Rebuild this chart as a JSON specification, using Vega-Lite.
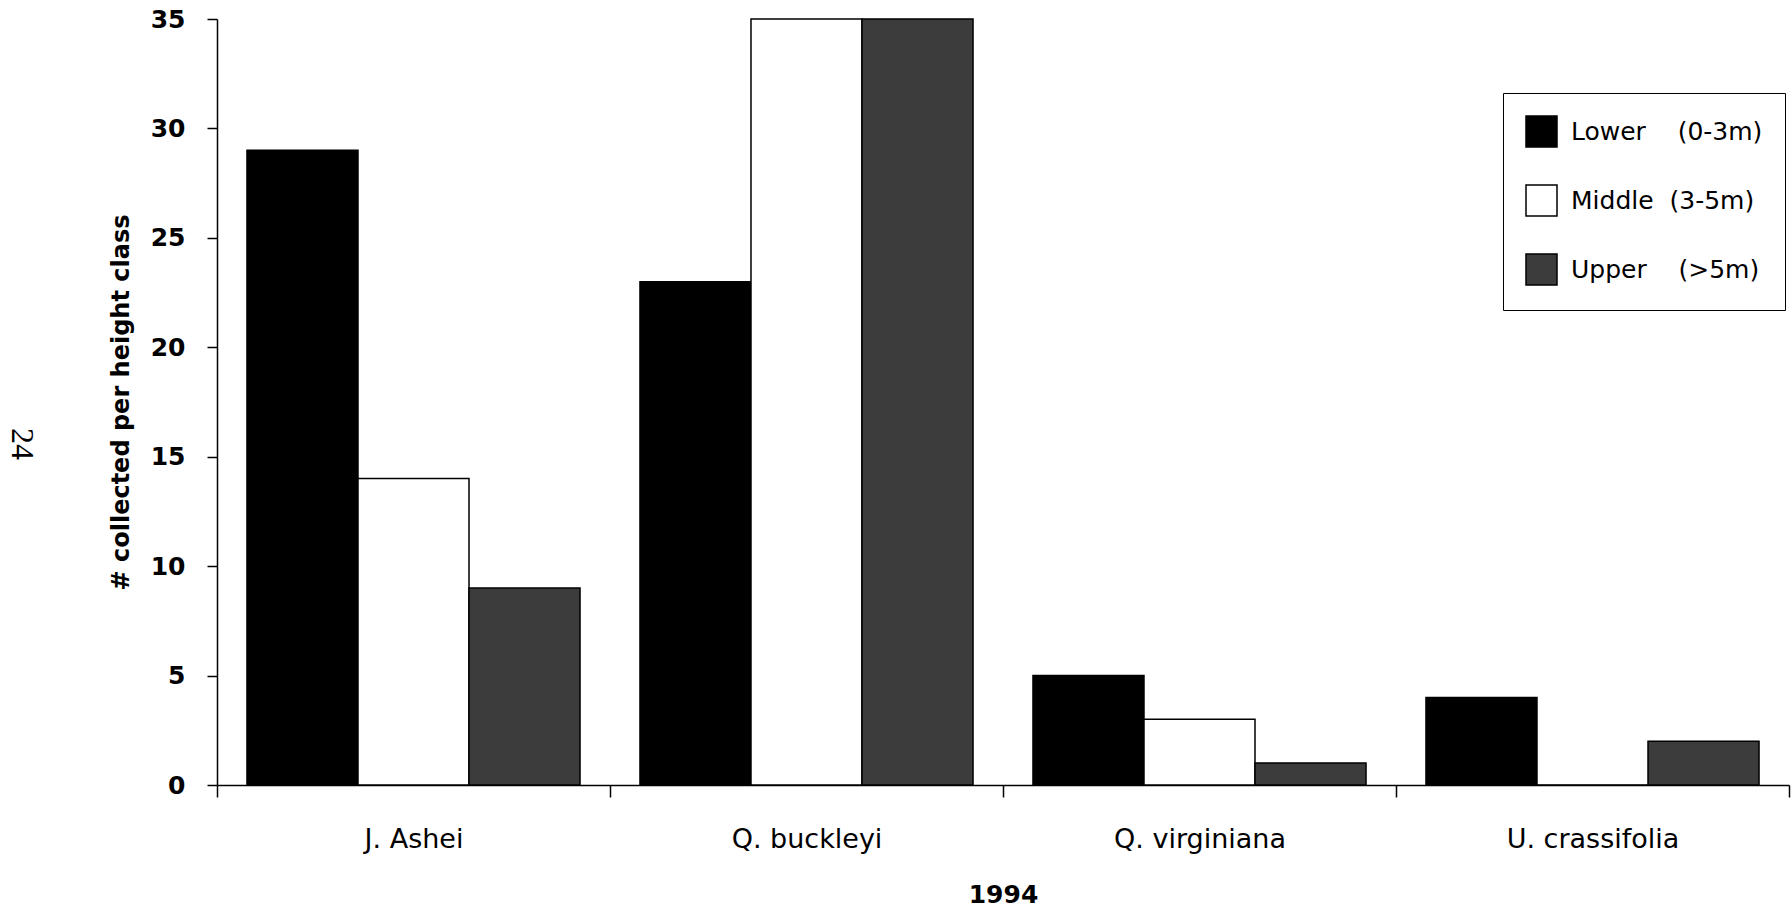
{
  "$schema": "https://vega.github.io/schema/vega-lite/v6.json",
  "autosize": "none",
  "width": 1572,
  "height": 766,
  "padding": {"left": 217, "top": 19, "right": 3, "bottom": 127},
  "background": "white",
  "title": {
    "text": "24",
    "orient": "left",
    "anchor": "middle",
    "angle": 90,
    "font": "Liberation Serif",
    "fontSize": 32,
    "fontWeight": "normal",
    "color": "black",
    "offset": 40,
    "dx": 42
  },
  "data": {
    "values": [
      {"species": "J. Ashei", "height_class": "Lower", "count": 29},
      {"species": "J. Ashei", "height_class": "Middle", "count": 14},
      {"species": "J. Ashei", "height_class": "Upper", "count": 9},
      {"species": "Q. buckleyi", "height_class": "Lower", "count": 23},
      {"species": "Q. buckleyi", "height_class": "Middle", "count": 35},
      {"species": "Q. buckleyi", "height_class": "Upper", "count": 35},
      {"species": "Q. virginiana", "height_class": "Lower", "count": 5},
      {"species": "Q. virginiana", "height_class": "Middle", "count": 3},
      {"species": "Q. virginiana", "height_class": "Upper", "count": 1},
      {"species": "U. crassifolia", "height_class": "Lower", "count": 4},
      {"species": "U. crassifolia", "height_class": "Middle", "count": 0},
      {"species": "U. crassifolia", "height_class": "Upper", "count": 2}
    ]
  },
  "mark": {"type": "bar", "stroke": "black", "strokeWidth": 1.5},
  "encoding": {
    "x": {
      "field": "species",
      "type": "nominal",
      "sort": ["J. Ashei", "Q. buckleyi", "Q. virginiana", "U. crassifolia"],
      "scale": {"paddingInner": 0, "paddingOuter": 0},
      "title": "1994",
      "axis": {
        "labelAngle": 0,
        "labelFont": "DejaVu Sans",
        "labelFontSize": 27,
        "labelColor": "black",
        "labelPadding": 29,
        "tickBand": "extent",
        "tickSize": 12,
        "tickColor": "black",
        "tickWidth": 1.5,
        "domainColor": "black",
        "domainWidth": 1.5,
        "titleFont": "DejaVu Sans",
        "titleFontWeight": "bold",
        "titleFontSize": 25,
        "titleColor": "black",
        "titlePadding": 30
      }
    },
    "xOffset": {
      "field": "height_class",
      "type": "nominal",
      "sort": ["Lower", "Middle", "Upper"],
      "scale": {"paddingInner": 0, "paddingOuter": 0.27}
    },
    "y": {
      "field": "count",
      "type": "quantitative",
      "scale": {"domain": [0, 35], "nice": false},
      "title": "# collected per height class",
      "axis": {
        "values": [0, 5, 10, 15, 20, 25, 30, 35],
        "grid": false,
        "tickSize": 10,
        "tickColor": "black",
        "tickWidth": 1.5,
        "domainColor": "black",
        "domainWidth": 1.5,
        "labelFont": "DejaVu Sans",
        "labelFontWeight": "bold",
        "labelFontSize": 25,
        "labelColor": "black",
        "labelPadding": 22,
        "titleFont": "DejaVu Sans",
        "titleFontWeight": "bold",
        "titleFontSize": 24,
        "titleColor": "black",
        "titlePadding": 17
      }
    },
    "color": {
      "field": "height_class",
      "type": "nominal",
      "scale": {
        "domain": ["Lower", "Middle", "Upper"],
        "range": ["#000000", "#ffffff", "#3c3c3c"]
      },
      "legend": {
        "title": null,
        "orient": "none",
        "legendX": 1286,
        "legendY": 74,
        "padding": 22,
        "strokeColor": "black",
        "fillColor": "white",
        "symbolType": "square",
        "symbolSize": 961,
        "symbolStrokeColor": "black",
        "symbolStrokeWidth": 1.5,
        "symbolOpacity": 1,
        "labelFont": "DejaVu Sans",
        "labelFontSize": 25,
        "labelColor": "black",
        "labelOffset": 13,
        "rowPadding": 32,
        "labelLimit": 400,
        "labelExpr": "datum.label == 'Lower' ? 'Lower\u00a0\u00a0\u00a0\u00a0(0-3m)' : datum.label == 'Middle' ? 'Middle\u00a0\u00a0(3-5m)' : 'Upper\u00a0\u00a0\u00a0\u00a0(>5m)'"
      }
    }
  },
  "config": {
    "view": {"stroke": null}
  }
}
